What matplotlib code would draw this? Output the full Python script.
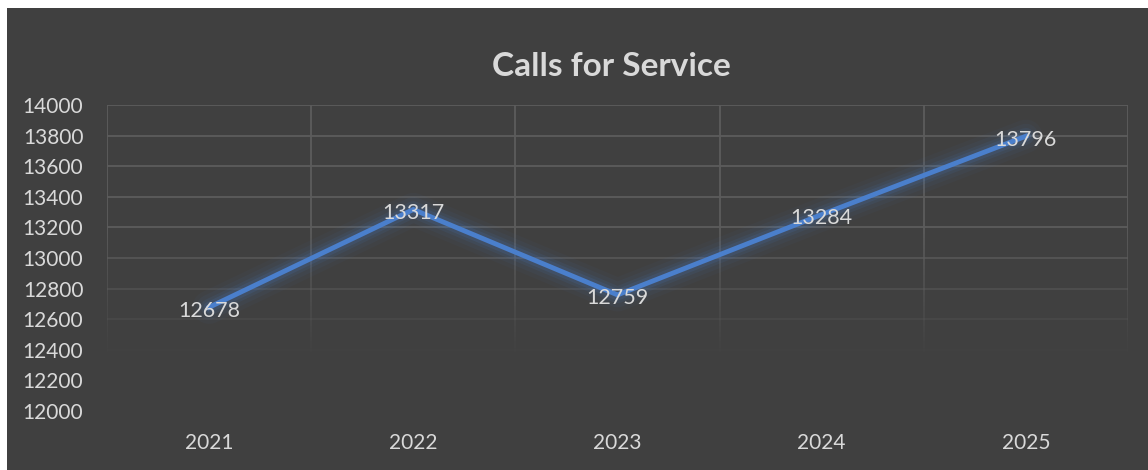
import matplotlib
matplotlib.use("Agg")
import matplotlib.pyplot as plt
import numpy as np
from matplotlib.patches import Rectangle

years = ["2021", "2022", "2023", "2024", "2025"]
calls = [12678, 13317, 12759, 13284, 13796]
yticks = [12000, 12200, 12400, 12600, 12800, 13000, 13200, 13400, 13600, 13800, 14000]

BG = "#404040"
TXT = "#d9d9d9"
GRID = "#5c5c5c"
LINE = "#4a7fcc"
FONT = "Lato"

fig = plt.figure(figsize=(11.48, 4.70), dpi=100, facecolor="white")
fig.patches.append(Rectangle((7/1148, 0), 1 - 7/1148, 1 - 8/470, transform=fig.transFigure,
                             facecolor=BG, edgecolor="none", zorder=-10))

ax = fig.add_axes([107/1148, 1 - 411/470, (1128 - 107)/1148, (411 - 105)/470])
ax.set_facecolor("none")
x = np.arange(len(years))
ax.set_xlim(-0.5, len(years) - 0.5)
ax.set_ylim(12000, 14000)
for s in ax.spines.values():
    s.set_visible(False)

# fading horizontal gridlines
def fade(v):
    return float(np.clip((v - 12350) / 850.0, 0, 1))

for t in yticks:
    a = fade(t)
    if a > 0:
        ax.axhline(t, color=GRID, lw=1.3, alpha=a, zorder=1)

# fading vertical gridlines
ys = np.linspace(12300, 14000, 120)
for xb in np.arange(-0.5, len(years), 1.0):
    for y0, y1 in zip(ys[:-1], ys[1:]):
        a = fade((y0 + y1) / 2)
        ax.plot([xb, xb], [y0, y1], color=GRID, lw=1.3, alpha=a, zorder=1,
                solid_capstyle="butt")

# glow
for w, a in [(24, 0.04), (18, 0.06), (12, 0.09), (8, 0.13)]:
    ax.plot(x, calls, color=LINE, lw=w, alpha=a, solid_joinstyle="round",
            solid_capstyle="round", zorder=2)
ax.plot(x, calls, color=LINE, lw=3.5, solid_joinstyle="miter", zorder=3)

for xi, v in zip(x, calls):
    ax.annotate(str(v), (xi, v), xytext=(0, -2.5), textcoords="offset points",
                ha="center", va="center", color=TXT, fontsize=15.5,
                family=FONT, zorder=4)

ax.set_yticks(yticks)
ax.set_yticklabels([str(t) for t in yticks])
ax.set_xticks(x)
ax.set_xticklabels(years)
ax.tick_params(axis="both", length=0, colors=TXT, labelsize=15)
ax.tick_params(axis="y", pad=17)
ax.tick_params(axis="x", pad=16)
for lab in ax.get_xticklabels() + ax.get_yticklabels():
    lab.set_family(FONT)
    lab.set_color(TXT)

fig.text(611/1148, 1 - 67/470, "Calls for Service", ha="center", va="center",
         color=TXT, fontsize=24, fontweight="bold", family=FONT)

fig.savefig("out.png", dpi=100, facecolor="white")
